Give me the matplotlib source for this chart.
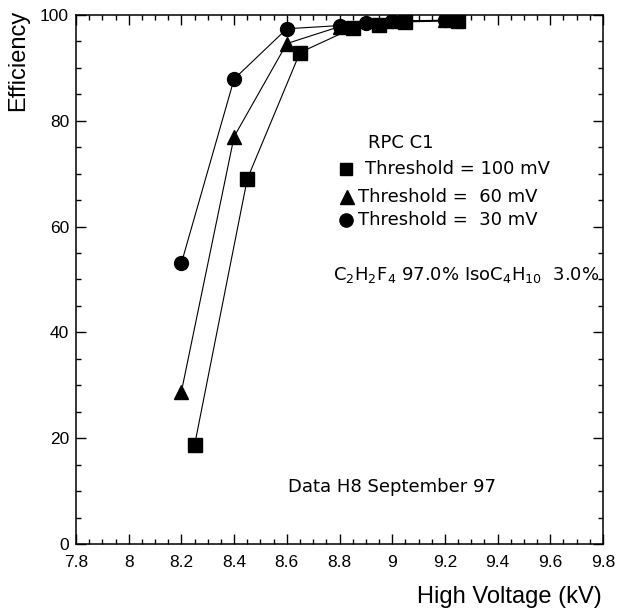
import matplotlib
matplotlib.use('Agg')
import matplotlib.pyplot as plt
from matplotlib.ticker import MultipleLocator

# efficiency vs high voltage, RPC C1, three thresholds
hv_100 = [8.25, 8.45, 8.65, 8.85, 8.95, 9.05, 9.25]
eff_100 = [18.7, 69.0, 92.9, 97.5, 98.2, 98.7, 98.9]

hv_60 = [8.2, 8.4, 8.6, 8.8, 9.0, 9.2]
eff_60 = [28.8, 77.0, 94.6, 97.8, 98.8, 99.0]

hv_30 = [8.2, 8.4, 8.6, 8.8, 8.9, 9.0, 9.2]
eff_30 = [53.1, 87.9, 97.4, 98.0, 98.4, 98.9, 99.0]

plt.rcParams['font.family'] = ['Liberation Sans', 'DejaVu Sans']

fig = plt.figure(figsize=(6.19, 6.14), dpi=100)
ax = fig.add_axes([76/619, 1-544/614, 527/619, 529/614])

ax.plot(hv_100, eff_100, color='black', lw=0.8, marker='s', ms=9.5)
ax.plot(hv_60, eff_60, color='black', lw=0.8, marker='^', ms=10)
ax.plot(hv_30, eff_30, color='black', lw=0.8, marker='o', ms=10)

ax.set_xlim(7.8, 9.8)
ax.set_ylim(0, 100)
ax.xaxis.set_major_locator(MultipleLocator(0.2))
ax.xaxis.set_minor_locator(MultipleLocator(0.05))
ax.yaxis.set_major_locator(MultipleLocator(20))
ax.yaxis.set_minor_locator(MultipleLocator(5))
ax.set_xticklabels([])
ax.set_xticks([7.8, 8.0, 8.2, 8.4, 8.6, 8.8, 9.0, 9.2, 9.4, 9.6, 9.8])
ax.set_xticklabels(['7.8', '8', '8.2', '8.4', '8.6', '8.8', '9', '9.2', '9.4', '9.6', '9.8'])
ax.tick_params(which='both', direction='in', top=True, right=True, labelsize=12.5, width=1)
ax.tick_params(which='major', length=7)
ax.tick_params(which='minor', length=3.5)
ax.tick_params(axis='x', pad=8)
ax.tick_params(axis='y', pad=5)
for s in ax.spines.values():
    s.set_linewidth(1.1)

fig.text(602/619, 1-597/614, 'High Voltage (kV)', ha='right', va='center', fontsize=17)
fig.text(18/619, 1-10/614, 'Efficiency', ha='center', va='top', rotation=90, fontsize=17)

# annotations (geometric style font in the original)
afont = dict(family='DejaVu Sans', fontsize=13, transform=ax.transAxes)
ax.text(0.554, 0.758, 'RPC C1', ha='left', va='center', **afont)
ax.plot([0.512], [0.709], 's', color='black', ms=8.5, transform=ax.transAxes, clip_on=False)
ax.plot([0.514], [0.656], '^', color='black', ms=9.5, transform=ax.transAxes, clip_on=False)
ax.plot([0.512], [0.612], 'o', color='black', ms=9.5, transform=ax.transAxes, clip_on=False)
ax.text(0.548, 0.709, 'Threshold = 100 mV', ha='left', va='center', **afont)
ax.text(0.535, 0.656, 'Threshold =  60 mV', ha='left', va='center', **afont)
ax.text(0.535, 0.612, 'Threshold =  30 mV', ha='left', va='center', **afont)
ax.text(0.488, 0.508, r'C$_2$H$_2$F$_4$ 97.0% IsoC$_4$H$_{10}$  3.0%', ha='left', va='center', **afont)
ax.text(0.402, 0.108, 'Data H8 September 97', ha='left', va='center', **afont)

plt.savefig('out.png', dpi=100)
